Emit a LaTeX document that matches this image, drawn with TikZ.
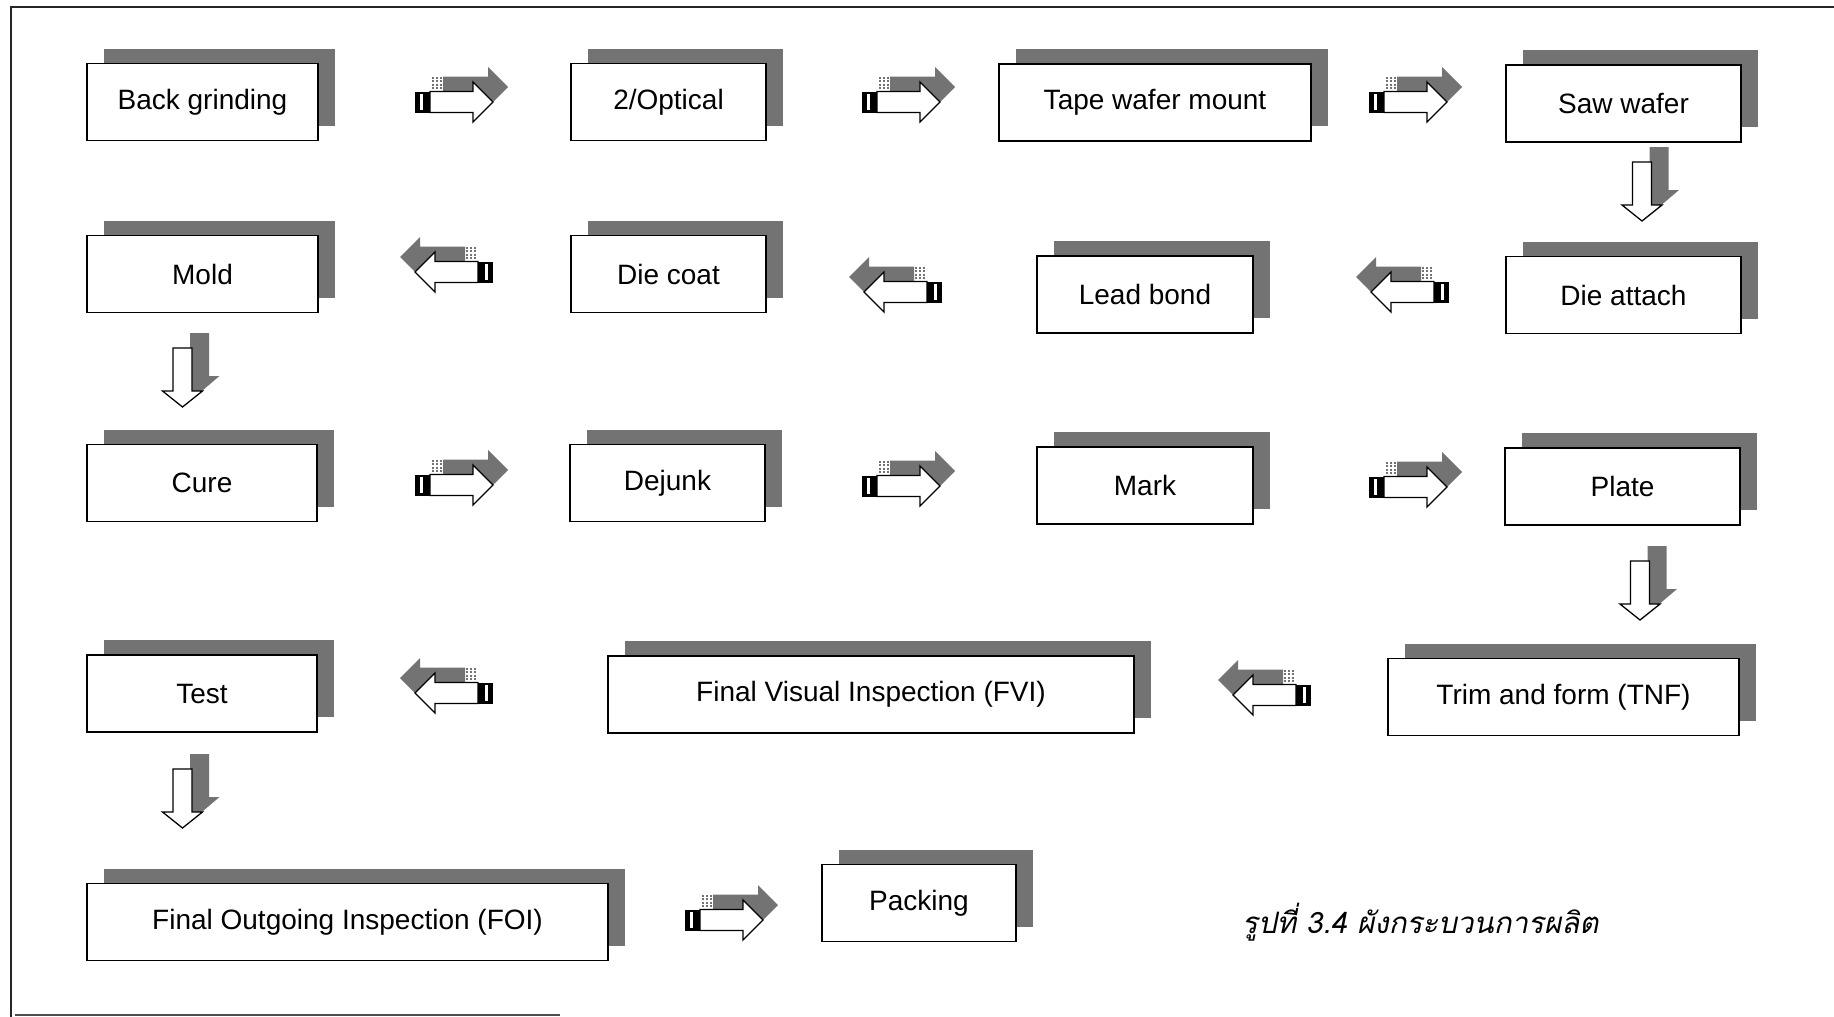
\documentclass[tikz,border=0pt]{standalone}
\usepackage{fontspec}
\setmainfont{Liberation Sans}
\newfontfamily\thaifont[Script=Thai,FakeSlant=0.2]{Loma}
\usetikzlibrary{shadows}
\definecolor{shadowc}{gray}{0.45}
\tikzset{
  proc/.style={draw, line width=1.4pt, fill=white, inner sep=0pt, minimum height=77pt,
    font=\fontsize{28}{32}\selectfont,
    general shadow={fill=shadowc, shadow xshift=17pt, shadow yshift=15pt}},
  frameline/.style={line width=2.2pt, black!85},
  rarr/.pic={
    \fill[shadowc] (28,-25.5) -- (73,-25.5) -- (73,-35) -- (93,-15) -- (73,5) -- (73,-4.5) -- (28,-4.5) -- cycle;
    \foreach \sx in {18,22,26} \draw[shadowc, line width=2pt, dash pattern=on 2pt off 1.5pt] (\sx,-25.5) -- (\sx,-10.5);
    \draw[fill=white, line width=1.3pt, line join=miter] (15,-10.5) -- (58,-10.5) -- (58,-20) -- (78,0) -- (58,20) -- (58,10.5) -- (15,10.5) -- cycle;
    \fill (0,-10.5) rectangle (15,10.5);
    \fill[white] (5,-8) rectangle (8,8);
  },
  darr/.pic={
    \fill[shadowc] (7.5,-15) -- (26.5,-15) -- (26.5,28) -- (37,28) -- (17,45) -- (7.5,45) -- cycle;
    \draw[fill=white, line width=1.3pt, line join=miter] (-9.5,0) -- (9.5,0) -- (9.5,43) -- (20,43) -- (0,59) -- (-20,43) -- (-9.5,43) -- cycle;
  }
}
\begin{document}
\begin{tikzpicture}[x=1pt, y=-1pt]
\useasboundingbox (0,0) rectangle (1834,1017);
% frame
\draw[frameline] (11,7) -- (1834,7);
\draw[frameline] (11,6) -- (11,1017);
\draw[line width=1.5pt, black!70] (15,1015) -- (560,1015);

% row 1
\node[proc, minimum width=231pt] (bg)  at (202.5,102) {Back grinding};
\node[proc, minimum width=195pt] (opt) at (668.5,102) {2/Optical};
\node[proc, minimum width=312pt] (twm) at (1155,102.5) {Tape wafer mount};
\node[proc, minimum width=235pt] (saw) at (1623.5,103.5) {Saw wafer};
% row 2
\node[proc, minimum width=231pt] (mold) at (202.5,274) {Mold};
\node[proc, minimum width=195pt] (dc)   at (668.5,274) {Die coat};
\node[proc, minimum width=216pt] (lb)   at (1145,294.5) {Lead bond};
\node[proc, minimum width=235pt] (da)   at (1623.5,295) {Die attach};
% row 3
\node[proc, minimum width=230pt] (cure)   at (202,483) {Cure};
\node[proc, minimum width=195pt] (dejunk) at (667.5,483) {Dejunk};
\node[proc, minimum width=216pt] (mark)   at (1145,485.5) {Mark};
\node[proc, minimum width=235pt] (plate)  at (1622.5,486.5) {Plate};
% row 4
\node[proc, minimum width=230pt] (test) at (202,693.5) {Test};
\node[proc, minimum width=526pt] (fvi)  at (871,694.5) {Final Visual Inspection (FVI)};
\node[proc, minimum width=351pt] (tnf)  at (1563.5,697) {Trim and form (TNF)};
% row 5
\node[proc, minimum width=521pt] (foi)  at (347.5,922) {Final Outgoing Inspection (FOI)};
\node[proc, minimum width=194pt] (pack) at (919,903) {Packing};

% arrows
\pic at (415,102) {rarr};
\pic at (862,102) {rarr};
\pic at (1369,102) {rarr};
\pic at (1642,162) {darr};
\pic[xscale=-1] at (1449,292) {rarr};
\pic[xscale=-1] at (942,292) {rarr};
\pic[xscale=-1] at (493,272) {rarr};
\pic at (182.5,348) {darr};
\pic at (415,485) {rarr};
\pic at (862,486) {rarr};
\pic at (1369,487) {rarr};
\pic at (1640,561) {darr};
\pic[xscale=-1] at (1311,695) {rarr};
\pic[xscale=-1] at (493,693) {rarr};
\pic at (182.5,769) {darr};
\pic at (685,920) {rarr};

% caption
\node[anchor=base west, inner sep=0pt, font=\thaifont\fontsize{29.5}{34}\selectfont] (cap) at (1242,933) {รูปที่ 3.4 ผังกระบวนการผลิต};
\end{tikzpicture}
\end{document}
